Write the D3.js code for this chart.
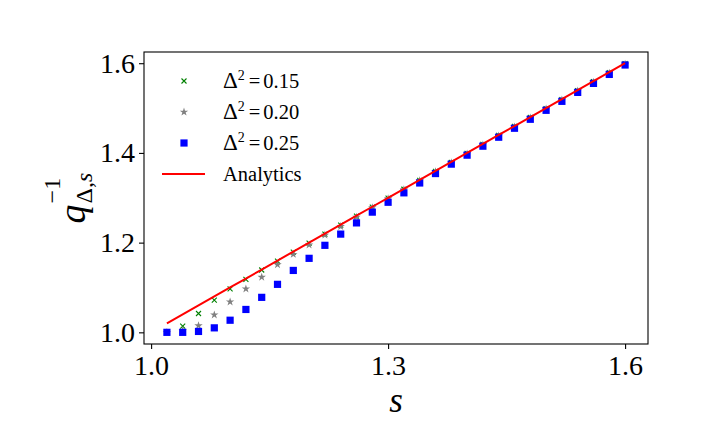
<!DOCTYPE html>
<html>
<head>
<meta charset="utf-8">
<script src="https://cdnjs.cloudflare.com/ajax/libs/d3/7.8.5/d3.min.js"></script>
<style>
    body { margin: 0; background: #fff; }
</style>
</head>
<body>
<div id="chart"></div>
<script>
// s values on the x axis
var sValues = [1.02, 1.04, 1.06, 1.08, 1.10, 1.12, 1.14, 1.16, 1.18, 1.20,
               1.22, 1.24, 1.26, 1.28, 1.30, 1.32, 1.34, 1.36, 1.38, 1.40,
               1.42, 1.44, 1.46, 1.48, 1.50, 1.52, 1.54, 1.56, 1.58, 1.60];
// Delta^2 = 0.15
var q015 = [1.000, 1.014, 1.042, 1.072, 1.097, 1.118, 1.139, 1.159, 1.179, 1.199,
            1.219, 1.239, 1.259, 1.279, 1.299, 1.319, 1.339, 1.359, 1.379, 1.399,
            1.419, 1.439, 1.459, 1.479, 1.499, 1.519, 1.539, 1.559, 1.579, 1.599];
// Delta^2 = 0.20
var q020 = [1.000, 1.004, 1.015, 1.039, 1.068, 1.097, 1.123, 1.151, 1.174, 1.195,
            1.217, 1.236, 1.257, 1.278, 1.298, 1.318, 1.338, 1.358, 1.378, 1.398,
            1.418, 1.438, 1.458, 1.478, 1.498, 1.518, 1.538, 1.558, 1.578, 1.598];
// Delta^2 = 0.25
var q025 = [1.000, 1.000, 1.002, 1.010, 1.027, 1.051, 1.078, 1.107, 1.138, 1.165,
            1.194, 1.219, 1.244, 1.268, 1.290, 1.311, 1.333, 1.354, 1.375, 1.395,
            1.415, 1.435, 1.455, 1.475, 1.495, 1.515, 1.535, 1.555, 1.575, 1.596];
// analytic curve
var analytic = [1.02, 1.04, 1.06, 1.08, 1.10, 1.12, 1.14, 1.16, 1.18, 1.20,
                1.22, 1.24, 1.26, 1.28, 1.30, 1.32, 1.34, 1.36, 1.38, 1.40,
                1.42, 1.44, 1.46, 1.48, 1.50, 1.52, 1.54, 1.56, 1.58, 1.60];
var xTicks = [1.0, 1.3, 1.6];
var yTicks = [1.0, 1.2, 1.4, 1.6];
var seriesNames = ["0.15", "0.20", "0.25"];

var width = 720, height = 432;
var box = {left: 144, right: 648, top: 52, bottom: 344};
var serif = "'Liberation Serif', 'Times New Roman', Times, 'DejaVu Serif', serif";

var svg = d3.select("#chart")
    .append("svg")
    .attr("width", width)
    .attr("height", height)
    .style("font-family", serif);

var x = d3.scaleLinear().domain([0.991, 1.629]).range([box.left, box.right]);
var y = d3.scaleLinear().domain([0.974, 1.625]).range([box.bottom, box.top]);

// axes
var xAxis = svg.append("g")
    .attr("transform", "translate(0," + box.bottom + ")")
    .call(d3.axisBottom(x).tickValues(xTicks).tickFormat(d3.format(".1f")).tickSize(5).tickPadding(6));
var yAxis = svg.append("g")
    .attr("transform", "translate(" + box.left + ",0)")
    .call(d3.axisLeft(y).tickValues(yTicks).tickFormat(d3.format(".1f")).tickSize(5).tickPadding(4));
[xAxis, yAxis].forEach(function (a) {
    a.attr("font-family", null).attr("font-size", null);
    a.select(".domain").remove();
    a.selectAll("line").attr("stroke", "#000").attr("stroke-width", 1.1);
    a.selectAll("text")
        .style("font-family", serif)
        .style("font-size", "28px")
        .attr("fill", "#000");
});

// data points
var series = [
    {vals: q015, color: "green", sym: d3.symbolX, size: 18, stroke: true},
    {vals: q020, color: "gray", sym: d3.symbolStar, size: 22, stroke: false},
    {vals: q025, color: "blue", sym: d3.symbolSquare, size: 52, stroke: false}
];
var plot = svg.append("g");
series.forEach(function (s) {
    var sym = d3.symbol().type(s.sym).size(s.size);
    plot.append("g")
        .selectAll("path")
        .data(s.vals)
        .enter()
        .append("path")
        .attr("d", sym)
        .attr("transform", function (d, i) { return "translate(" + x(sValues[i]) + "," + y(d) + ")"; })
        .attr("fill", s.stroke ? "none" : s.color)
        .attr("stroke", s.stroke ? s.color : "none")
        .attr("stroke-width", 1.1);
});

var line = d3.line()
    .x(function (d, i) { return x(sValues[i]); })
    .y(function (d) { return y(d); });
plot.append("path")
    .datum(analytic)
    .attr("d", line)
    .attr("fill", "none")
    .attr("stroke", "red")
    .attr("stroke-width", 2);

// frame
svg.append("rect")
    .attr("x", box.left).attr("y", box.top)
    .attr("width", box.right - box.left).attr("height", box.bottom - box.top)
    .attr("fill", "none").attr("stroke", "#000").attr("stroke-width", 1.1);

// legend
var leg = svg.append("g");
var rowY = [81, 112, 143, 174];
series.forEach(function (s, i) {
    leg.append("path")
        .attr("d", d3.symbol().type(s.sym).size(s.size))
        .attr("transform", "translate(184," + rowY[i] + ")")
        .attr("fill", s.stroke ? "none" : s.color)
        .attr("stroke", s.stroke ? s.color : "none")
        .attr("stroke-width", 1.1);
    var t = leg.append("text")
        .attr("x", 223).attr("y", rowY[i] + 7)
        .style("font-size", "20.5px");
    t.append("tspan").style("font-size", "23px").text("Δ");
    t.append("tspan").attr("dy", -8).style("font-size", "14px").text("2");
    t.append("tspan").attr("dy", 8).attr("dx", 4).text("=");
    t.append("tspan").attr("dx", 3).text(seriesNames[i]);
});
leg.append("line")
    .attr("x1", 162).attr("x2", 205)
    .attr("y1", rowY[3]).attr("y2", rowY[3])
    .attr("stroke", "red").attr("stroke-width", 2);
leg.append("text")
    .attr("x", 223).attr("y", rowY[3] + 7)
    .style("font-size", "20.5px")
    .text("Analytics");

// axis labels
svg.append("text")
    .attr("x", (box.left + box.right) / 2)
    .attr("y", 412)
    .attr("text-anchor", "middle")
    .style("font-size", "35px")
    .style("font-style", "italic")
    .text("s");

var yl = svg.append("g");
var ylInner = yl.append("g");
ylInner.append("text")
    .attr("x", 0).attr("y", 0)
    .style("font-size", "38px").style("font-style", "italic")
    .text("q");
ylInner.append("text")
    .attr("x", 20).attr("y", -25)
    .style("font-size", "24px")
    .text("−1");
var sub = ylInner.append("text")
    .attr("x", 20).attr("y", 7)
    .style("font-size", "24px");
sub.append("tspan").text("Δ,");
sub.append("tspan").style("font-style", "italic").text("s");
// center the label on the axes
var bb = ylInner.node().getBBox();
ylInner.attr("transform", "translate(" + (-(bb.x + bb.width / 2)) + ",0)");
yl.attr("transform", "translate(85," + ((box.top + box.bottom) / 2) + ") rotate(-90)");
</script>
</body>
</html>
